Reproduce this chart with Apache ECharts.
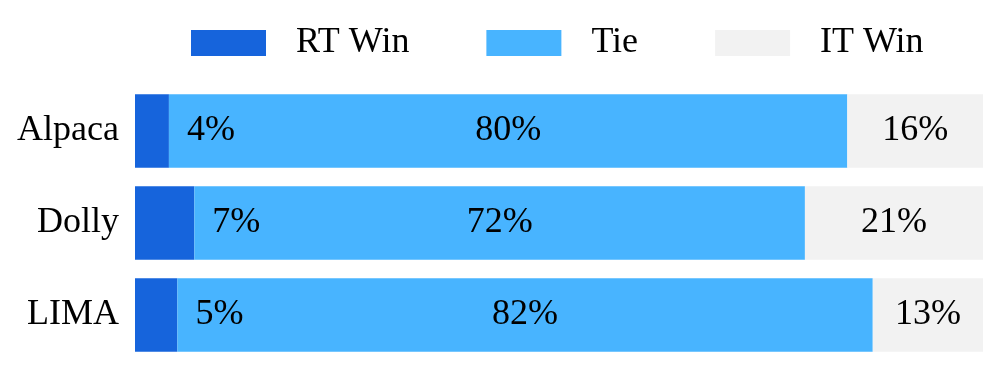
<!DOCTYPE html>
<html>
<head>
<meta charset="utf-8">
<script src="https://cdn.jsdelivr.net/npm/echarts@6/dist/echarts.min.js"></script>
<style>html,body{margin:0;padding:0;background:#fff;}#c{width:997px;height:380px;}</style>
</head>
<body>
<div id="c"></div>
<script>
const categories = ['Alpaca', 'Dolly', 'LIMA'];
const seriesNames = ['RT Win', 'Tie', 'IT Win'];
const rtWin = [4, 7, 5];
const tie = [80, 72, 82];
const itWin = [16, 21, 13];

const colors = ['#1664dc', '#48b4ff', '#f2f2f2'];
const font = '"Liberation Serif", "Times New Roman", serif';
const chart = echarts.init(document.getElementById('c'));
const lbl = (pos, dist) => ({
  show: true, position: pos, distance: dist, color: '#000',
  fontFamily: font, fontSize: 36, formatter: p => p.value + '%'
});
chart.setOption({
  animation: false,
  textStyle: { fontFamily: font },
  legend: {
    left: 186, top: 20, itemWidth: 75, itemHeight: 26, itemGap: 77,
    icon: 'rect',
    textStyle: { fontFamily: font, fontSize: 36, color: '#000', padding: [0, 0, 0, 25] },
    data: seriesNames
  },
  grid: { left: 135, right: 14, top: 85, bottom: 19, containLabel: false },
  xAxis: { type: 'value', min: 0, max: 100, show: false },
  yAxis: {
    type: 'category', data: categories, inverse: true,
    axisLine: { show: false }, axisTick: { show: false },
    axisLabel: { fontFamily: font, fontSize: 36, color: '#000', margin: 16 }
  },
  series: [
    { name: seriesNames[0], type: 'bar', stack: 't', data: rtWin, barWidth: '80%',
      itemStyle: { color: colors[0] }, label: lbl('right', 18) },
    { name: seriesNames[1], type: 'bar', stack: 't', data: tie,
      itemStyle: { color: colors[1] }, label: lbl('inside', 0) },
    { name: seriesNames[2], type: 'bar', stack: 't', data: itWin,
      itemStyle: { color: colors[2] }, label: lbl('inside', 0) }
  ]
});
</script>
</body>
</html>
